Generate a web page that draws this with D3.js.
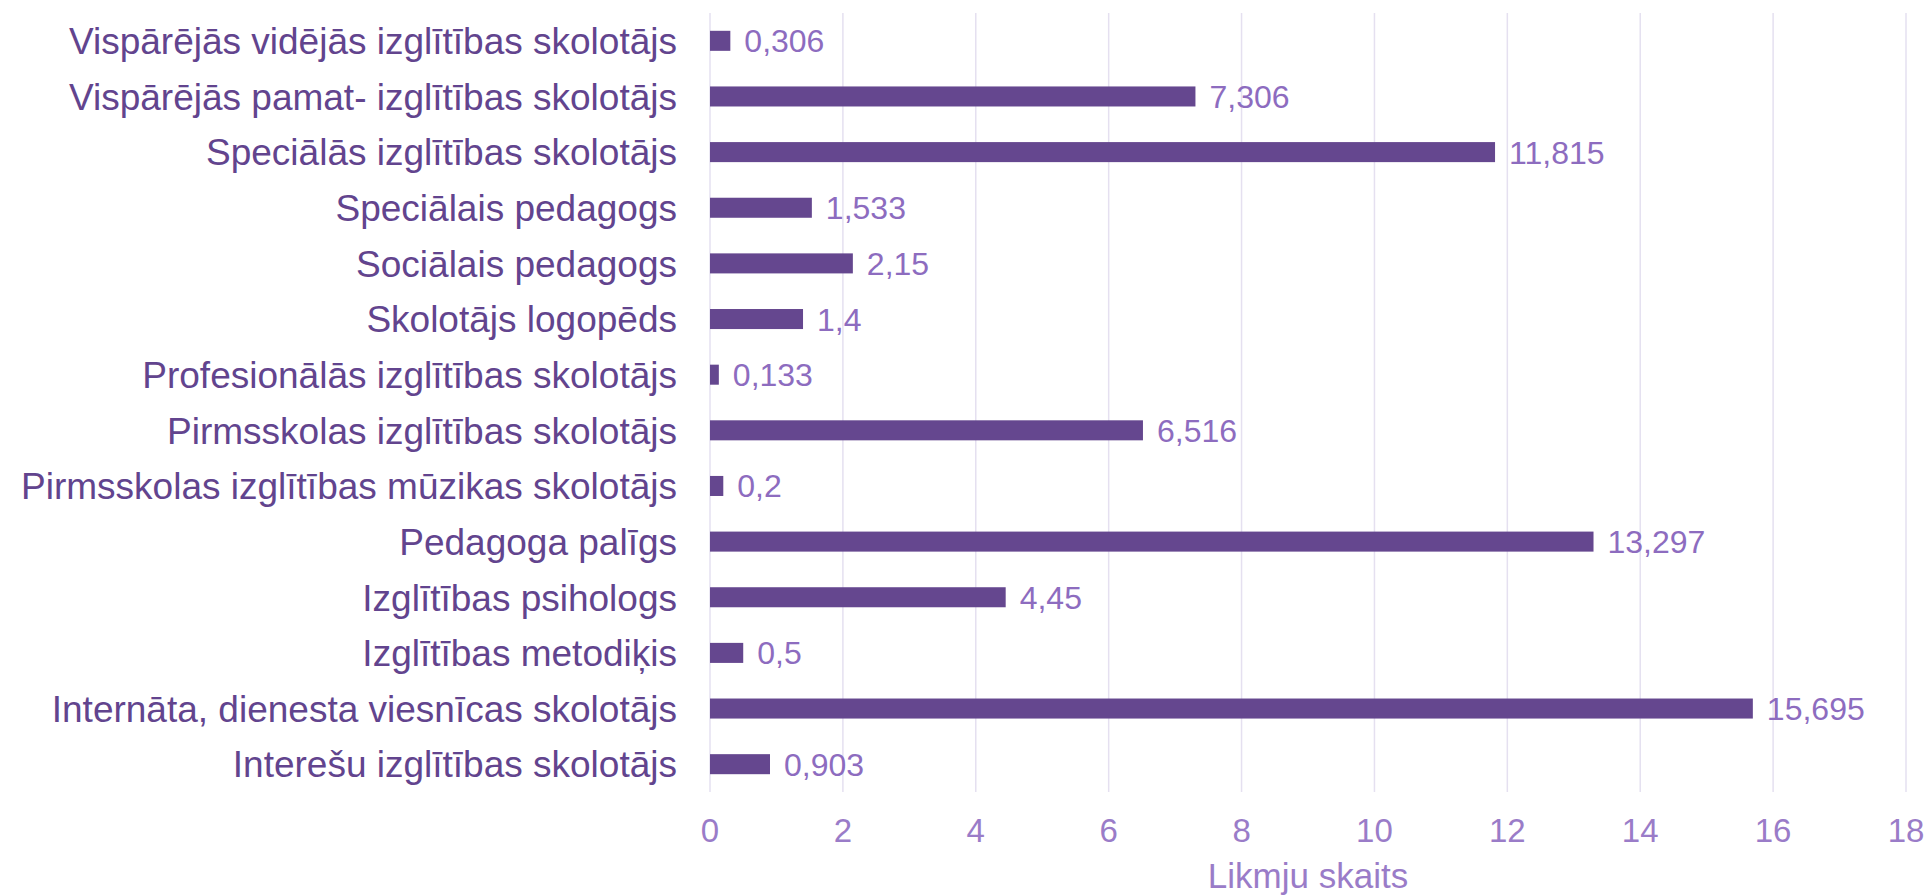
<!DOCTYPE html>
<html lang="lv">
<head>
<meta charset="UTF-8">
<title>Likmju skaits</title>
<style>
html, body { margin: 0; padding: 0; background: #fff; }
body { font-family: 'Liberation Sans', Arial, sans-serif; }
.grid line { stroke: #e5e0f0; stroke-width: 1.5; }
.cat { fill: #62448e; font-size: 37px; }
.val { fill: #8d6cbf; font-size: 32px; }
.tick-label { fill: #9a7cc8; font-size: 33px; }
.axis-title { fill: #9a7cc8; font-size: 35px; }
</style>
</head>
<body>
<svg width="1927" height="896"></svg>
<script src="https://cdnjs.cloudflare.com/ajax/libs/d3/7.8.5/d3.min.js"></script>
<script>
const categories = [
  'Vispārējās vidējās izglītības skolotājs',
  'Vispārējās pamat- izglītības skolotājs',
  'Speciālās izglītības skolotājs',
  'Speciālais pedagogs',
  'Sociālais pedagogs',
  'Skolotājs logopēds',
  'Profesionālās izglītības skolotājs',
  'Pirmsskolas izglītības skolotājs',
  'Pirmsskolas izglītības mūzikas skolotājs',
  'Pedagoga palīgs',
  'Izglītības psihologs',
  'Izglītības metodiķis',
  'Internāta, dienesta viesnīcas skolotājs',
  'Interešu izglītības skolotājs'
];
const values = [0.306, 7.306, 11.815, 1.533, 2.15, 1.4, 0.133, 6.516, 0.2, 13.297, 4.45, 0.5, 15.695, 0.903];
const xTicks = [0, 2, 4, 6, 8, 10, 12, 14, 16, 18];
const axisTitle = 'Likmju skaits';

const svg = d3.select('svg');
const plotLeft = 710, plotRight = 1906, plotTop = 13, plotBottom = 792;

const x = d3.scaleLinear().domain([0, 18]).range([plotLeft, plotRight]);
const y = d3.scaleBand()
  .domain(categories)
  .range([plotTop, plotBottom])
  .paddingInner(0.64)
  .paddingOuter(0.32);

const fmt = v => String(v).replace('.', ',');

// vertical gridlines
svg.append('g')
  .attr('class', 'grid')
  .selectAll('line')
  .data(xTicks)
  .enter()
  .append('line')
  .attr('x1', d => x(d))
  .attr('x2', d => x(d))
  .attr('y1', plotTop)
  .attr('y2', plotBottom);

const data = categories.map((c, i) => ({ cat: c, val: values[i] }));

svg.append('g')
  .selectAll('rect')
  .data(data)
  .enter()
  .append('rect')
  .attr('x', x(0))
  .attr('y', d => y(d.cat))
  .attr('width', d => x(d.val) - x(0))
  .attr('height', y.bandwidth())
  .attr('fill', '#65478f');

svg.append('g')
  .selectAll('text')
  .data(data)
  .enter()
  .append('text')
  .attr('class', 'val')
  .attr('x', d => x(d.val) + 14)
  .attr('y', d => y(d.cat) + y.bandwidth() / 2)
  .attr('dy', '0.36em')
  .text(d => fmt(d.val));

svg.append('g')
  .selectAll('text')
  .data(data)
  .enter()
  .append('text')
  .attr('class', 'cat')
  .attr('x', plotLeft - 33)
  .attr('y', d => y(d.cat) + y.bandwidth() / 2)
  .attr('dy', '0.36em')
  .attr('text-anchor', 'end')
  .text(d => d.cat);

svg.append('g')
  .selectAll('text')
  .data(xTicks)
  .enter()
  .append('text')
  .attr('class', 'tick-label')
  .attr('x', d => x(d))
  .attr('y', 842)
  .attr('text-anchor', 'middle')
  .text(d => d);

svg.append('text')
  .attr('class', 'axis-title')
  .attr('x', (plotLeft + plotRight) / 2)
  .attr('y', 888)
  .attr('text-anchor', 'middle')
  .text(axisTitle);
</script>
</body>
</html>
